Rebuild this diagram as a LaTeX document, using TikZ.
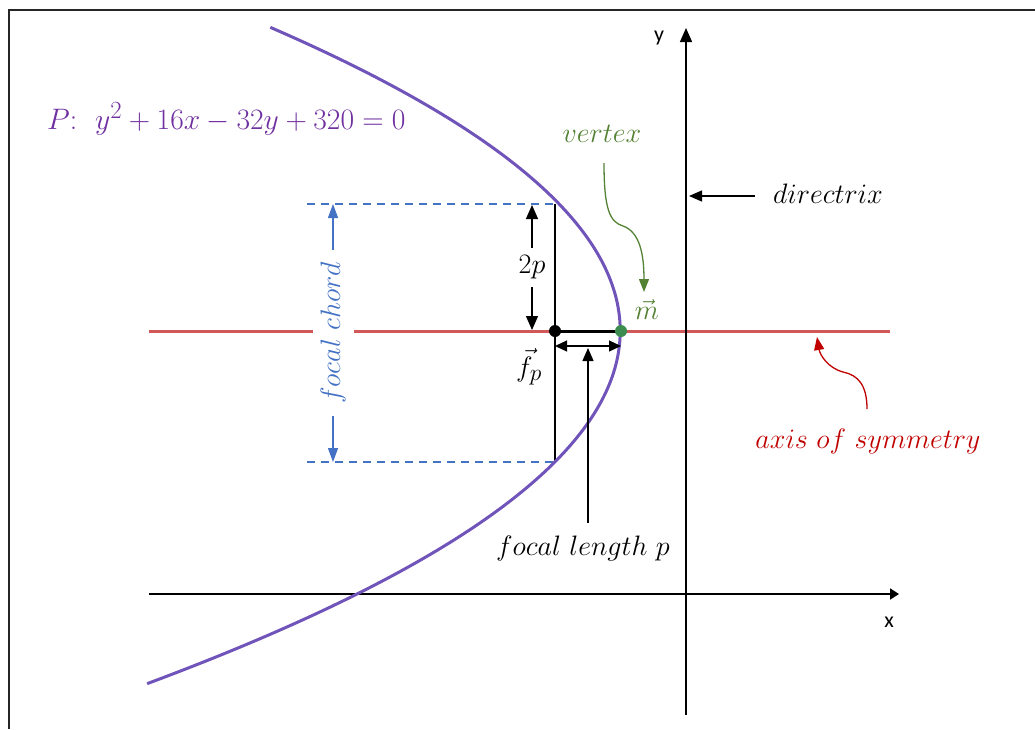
\documentclass[tikz,border=0pt]{standalone}
\usepackage{fontspec}
\newfontfamily\calib{Carlito}
\usetikzlibrary{arrows.meta}
\definecolor{ptext}{HTML}{7030A0}
\definecolor{pcurve}{RGB}{112,84,186}
\definecolor{gtext}{HTML}{548235}
\definecolor{gdot}{RGB}{60,140,80}
\definecolor{btext}{HTML}{4472C4}
\definecolor{rtext}{HTML}{C00000}
\definecolor{rline}{RGB}{208,88,88}
\newcommand\mtxt[1]{\scalebox{1.13}{$#1$}}
\begin{document}
\begin{tikzpicture}[x=1pt,y=-1pt,
  lbl/.style={font=\fontsize{24.88}{30}\selectfont, inner sep=0pt},
  axlbl/.style={font=\calib\fontsize{22}{26}\selectfont, inner sep=0pt},
  tri/.style={-{Triangle[length=13pt,width=11pt]}},
  dtri/.style={{Triangle[length=12pt,width=11pt]}-{Triangle[length=12pt,width=11pt]}},
  thinline/.style={line width=1.3pt}]
\useasboundingbox (0,0) rectangle (1035,729);
% frame
\draw[line width=2pt, black!85] (9,729) -- (9,10) -- (1035,10);
% key points
\coordinate (F) at (555,331);
\coordinate (V) at (621,331);
\coordinate (Ltop) at (555,204);
\coordinate (Lbot) at (555,462);
% axis of symmetry
\coordinate (as1) at (149,331);
\coordinate (as2) at (890,331);
\draw[rline, line width=3pt] (as1) -- (as2);
% coordinate axes
\coordinate (xa1) at (149,594);
\coordinate (xa2) at (899,594);
\draw[line width=1.8pt, -{Triangle[length=9pt,width=11pt]}] (xa1) -- (xa2);
\coordinate (ya1) at (686,715);
\coordinate (ya2) at (686,28);
\draw[line width=1.5pt, -{Triangle[length=14pt,width=12pt]}] (ya1) -- (ya2);
\node[axlbl] (xl) at (889,622) {x};
\node[axlbl] (yl) at (659,38) {y};
% dashed lines of focal chord
\coordinate (dt) at (307,204);
\coordinate (db) at (307,462);
\draw[btext, line width=1.2pt, dash pattern=on 8pt off 6pt] (dt) -- (Ltop);
\draw[btext, line width=1.2pt, dash pattern=on 8pt off 6pt] (db) -- (Lbot);
% focal chord line
\draw[thinline] (Ltop) -- (Lbot);
% parabola
\draw[pcurve, line width=3pt] plot[domain=-5.45:34.45, samples=120, smooth]
  ({686+16.45*(-4-(\x-16)^2/16)}, {594-16.45*\x});
% focal chord arrow
\coordinate (fc1) at (333,204);
\coordinate (fc2) at (333,462);
\draw[btext, thinline, {Triangle[length=14pt,width=10pt]}-{Triangle[length=14pt,width=10pt]}] (fc1) -- (fc2)
  node[lbl, midway, fill=white, rotate=90, inner xsep=12pt, inner ysep=8pt, text=btext] (fcl) {\mtxt{focal\ chord}};
% 2p arrow
\coordinate (tp1) at (532,205);
\coordinate (tp2) at (532,330);
\draw[thinline, {Triangle[length=14pt,width=12pt]}-{Triangle[length=14pt,width=12pt]}] (tp1) -- (tp2)
  node[lbl, midway, fill=white, inner xsep=2pt, inner ysep=8pt] (tpl) {\mtxt{2p}};
% focus-vertex segment and dots
\draw[line width=3pt] (F) -- (V);
\fill (F) circle (6);
\fill[gdot] (V) circle (6);
% focal length arrow
\coordinate (fl1) at (555,346);
\coordinate (fl2) at (621,346);
\draw[thinline, dtri] (fl1) -- (fl2);
\node[lbl] (fll) at (583,548) {\mtxt{focal\ length\ p}};
\coordinate (flt) at (588,348);
\coordinate (flb) at (588,523);
\draw[thinline, tri] (flb) -- (flt);
% labels
\node[lbl] (fp) at (529,367) {\mtxt{\vec{f}_p}};
\node[lbl, text=gtext] (ml) at (647,309) {\mtxt{\vec{m}}};
\node[lbl, text=gtext] (vx) at (602,134) {\mtxt{vertex}};
\node[lbl, anchor=west] (dx) at (773,194) {\mtxt{directrix}};
\node[lbl, text=rtext] (ax) at (868,441) {\mtxt{axis\ of\ symmetry}};
\node[lbl, anchor=west, text=ptext] (eq) at (47,119) {\scalebox{1.19}{$P{:}\ \ y^2+16x-32y+320=0$}};
% vertex arrow
\coordinate (vxs) at (604,163);
\coordinate (vxt) at (644,292);
\draw[gtext, line width=1.3pt, -{Triangle[length=13pt,width=10pt]}] (vxs) .. controls (604,210) and (610,222) .. (623,226) .. controls (640,232) and (644,255) .. (vxt);
% directrix arrow
\coordinate (ds) at (755,196);
\coordinate (dtp) at (689,196);
\draw[thinline, tri] (ds) -- (dtp);
% axis of symmetry arrow
\coordinate (ars) at (867,409);
\coordinate (art) at (817,337);
\draw[rtext, line width=1.3pt, -{Triangle[length=13pt,width=10pt]}] (ars) .. controls (867,385) and (858,375) .. (843,372) .. controls (828,368) and (820,355) .. (art);
\end{tikzpicture}
\end{document}
